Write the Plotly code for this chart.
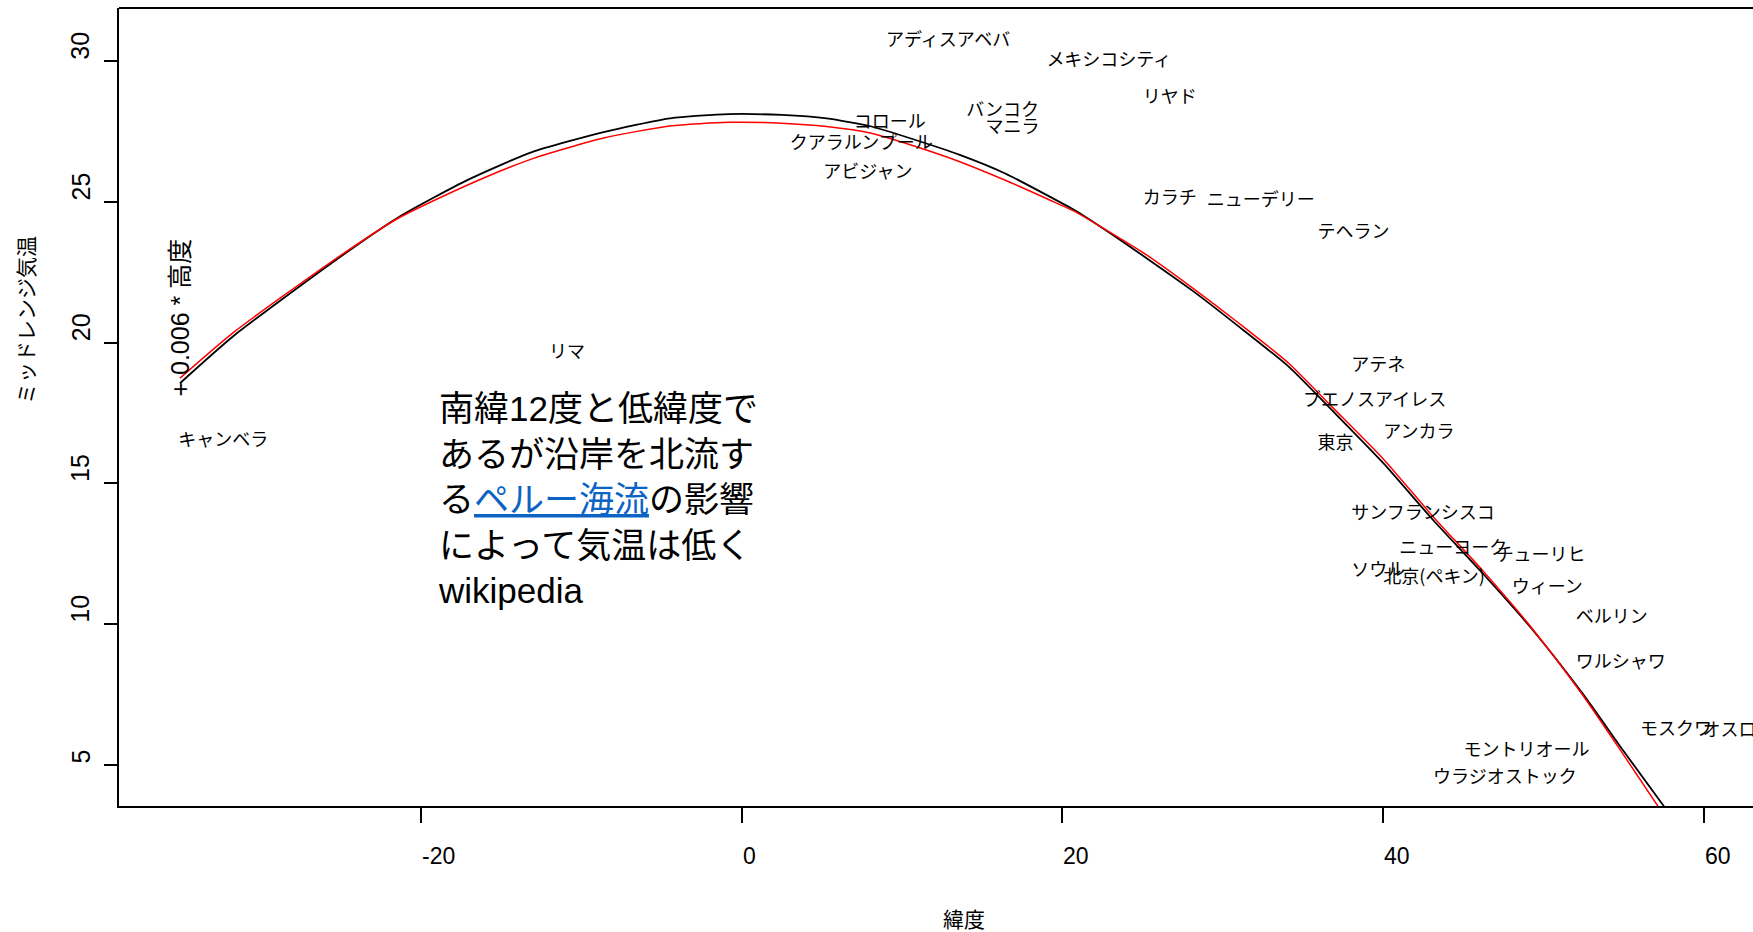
import plotly.graph_objects as go

# City labels: latitude (deg) and mid-range temperature adjusted for altitude
cities = [
    "アディスアベバ", "メキシコシティ", "リヤド", "バンコク", "マニラ", "コロール",
    "クアラルンプール", "アビジャン", "カラチ", "ニューデリー", "テヘラン", "リマ",
    "アテネ", "ブエノスアイレス", "東京", "アンカラ", "キャンベラ", "サンフランシスコ",
    "ニューヨーク", "チューリヒ", "ソウル", "北京(ペキン)", "ウィーン", "ベルリン",
    "ワルシャワ", "モスクワ", "オスロ", "モントリオール", "ウラジオストック",
]
city_lat = [
    9.0, 19.0, 25.0, 14.0, 15.2, 7.0,
    3.0, 5.1, 25.0, 29.0, 35.9, -12.0,
    38.0, 35.0, 35.9, 40.0, -35.1, 38.0,
    41.0, 47.0, 38.0, 40.0, 48.0, 52.0,
    52.0, 56.0, 59.9, 45.0, 43.1,
]
city_temp = [
    30.7, 29.99, 28.69, 28.21, 27.62, 27.8,
    27.03, 26.02, 25.07, 25.01, 23.89, 19.63,
    19.15, 17.91, 16.39, 16.78, 16.49, 13.9,
    12.64, 12.4, 11.87, 11.63, 11.28, 10.21,
    8.61, 6.24, 6.18, 5.47, 4.53,
]

# Fitted curves (black and red)
fit_black_lat = [-35.0, -31.7, -25.5, -21.4, -17.0, -13.1, -8.6, -4.45, -0.8, 2.5, 5.3,
                 8.1, 10.85, 13.6, 16.4, 19.2, 20.9, 23.6, 25.4, 28.1, 31.0, 34.1,
                 36.8, 40.0, 43.1, 46.2, 49.3, 52.4, 54.9, 57.5]
fit_black_temp = [18.56, 20.22, 22.85, 24.45, 25.8, 26.76, 27.48, 27.97, 28.12, 28.09, 27.97,
                  27.68, 27.2, 26.67, 26.02, 25.19, 24.66, 23.65, 22.94, 21.85, 20.57, 19.15,
                  17.6, 15.72, 13.7, 11.8, 9.8, 7.55, 5.55, 3.52]
fit_red_lat = [-35.0, -31.7, -25.5, -21.4, -17.0, -13.1, -8.6, -4.45, -0.8, 2.5, 5.3,
               8.1, 10.85, 13.6, 16.4, 19.2, 20.9, 23.6, 25.4, 28.1, 31.0, 34.1,
               36.8, 40.0, 43.1, 46.2, 49.3, 52.4, 54.9, 57.13]
fit_red_temp = [18.74, 20.35, 22.9, 24.42, 25.62, 26.52, 27.27, 27.7, 27.83, 27.8, 27.68,
                27.44, 26.97, 26.43, 25.78, 25.07, 24.62, 23.7, 23.06, 21.95, 20.69, 19.27,
                17.72, 15.87, 13.82, 11.9, 9.83, 7.5, 5.42, 3.52]

x_ticks = [-20, 0, 20, 40, 60]
y_ticks = [5, 10, 15, 20, 25, 30]

note_lines = [
    "南緯12度と低緯度で",
    "あるが沿岸を北流す",
    "る<span style=\"color:#0b63c4\"><u>ペルー海流</u></span>の影響",
    "によって気温は低く",
    "wikipedia",
]

W, H = 1753, 932
ML, MR, MT, MB = 119, 0, 8, 126
PW, PH = W - ML - MR, H - MT - MB

NUM_FONT = "Liberation Sans, Arial, sans-serif"
JP_FONT = "Noto Sans CJK JP, sans-serif"
MIX_FONT = "Liberation Sans, Arial, Noto Sans CJK JP, sans-serif"

fig = go.Figure()
fig.add_trace(go.Scatter(x=fit_black_lat, y=fit_black_temp, mode="lines",
                         line=dict(color="black", width=1.8, shape="spline", smoothing=0.6),
                         hoverinfo="skip"))
fig.add_trace(go.Scatter(x=fit_red_lat, y=fit_red_temp, mode="lines",
                         line=dict(color="#ff0000", width=1.5, shape="spline", smoothing=0.6),
                         hoverinfo="skip"))
fig.add_trace(go.Scatter(x=city_lat, y=city_temp, mode="text", text=cities,
                         textposition="middle right", cliponaxis=False,
                         textfont=dict(family=JP_FONT, size=18, color="black"),
                         hoverinfo="skip"))

annotations = []
# x tick labels (start at the tick)
for v in x_ticks:
    annotations.append(dict(x=v, xref="x", y=-50 / PH, yref="paper",
                            text=str(v), showarrow=False, xanchor="left",
                            yanchor="middle", borderpad=0,
                            font=dict(family=NUM_FONT, size=23, color="black")))
# y tick labels, rotated, starting at the tick
for v in y_ticks:
    annotations.append(dict(x=(80.5 - ML) / PW, xref="paper", y=v, yref="y",
                            text=str(v), showarrow=False, textangle=-90,
                            xanchor="center", yanchor="bottom", borderpad=0,
                            font=dict(family=NUM_FONT, size=25, color="black")))
# axis titles
annotations.append(dict(x=(964 - ML) / PW, xref="paper", y=(H - MB - 918) / PH, yref="paper",
                        text="緯度", showarrow=False, xanchor="center", yanchor="middle",
                        font=dict(family=JP_FONT, size=21, color="black")))
annotations.append(dict(x=(25 - ML) / PW, xref="paper", y=(H - MB - 320) / PH, yref="paper",
                        text="ミッドレンジ気温", showarrow=False, textangle=-90,
                        xanchor="center", yanchor="middle",
                        font=dict(family=JP_FONT, size=21, color="black")))
# altitude term next to the curve start
annotations.append(dict(x=-35.0, xref="x", y=18.05, yref="y",
                        text="+ 0.006 * 高度", showarrow=False, textangle=-90,
                        xanchor="center", yanchor="bottom", borderpad=0,
                        font=dict(family=MIX_FONT, size=25, color="black")))
# note about Lima
annotations.append(dict(x=-19.0, xref="x", y=14.43, yref="y",
                        text="<br>".join(note_lines), showarrow=False, align="left",
                        xanchor="left", yanchor="middle", borderpad=0,
                        font=dict(family=MIX_FONT, size=35, color="black")))

fig.update_layout(
    width=W, height=H,
    margin=dict(l=ML, r=MR, t=MT, b=MB),
    paper_bgcolor="white", plot_bgcolor="white",
    showlegend=False,
    annotations=annotations,
    shapes=[dict(type="line", xref="paper", yref="paper", x0=0, x1=1, y0=1, y1=1,
                 line=dict(color="black", width=2))],
    xaxis=dict(range=[-38.80, 63.04], showgrid=False, zeroline=False,
               showline=True, linecolor="black", linewidth=2,
               ticks="outside", tickvals=x_ticks, ticklen=15, tickwidth=1.5,
               tickcolor="black", showticklabels=False),
    yaxis=dict(range=[3.54, 31.89], showgrid=False, zeroline=False,
               showline=True, linecolor="black", linewidth=2,
               ticks="outside", tickvals=y_ticks, ticklen=13, tickwidth=1.5,
               tickcolor="black", showticklabels=False),
)

fig.write_html("out.html")
